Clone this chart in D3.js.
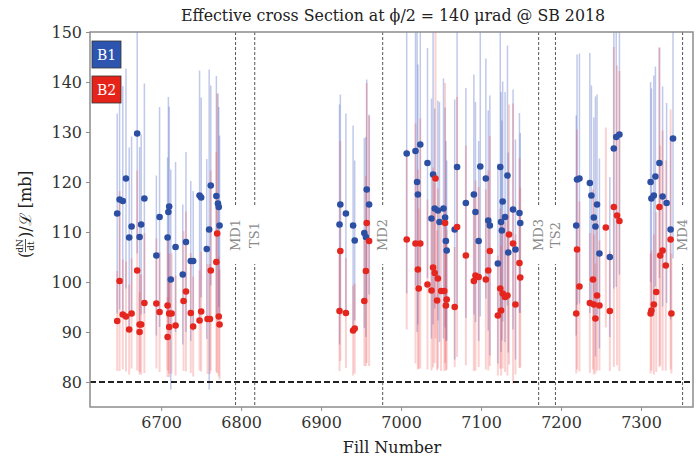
<!DOCTYPE html>
<html>
<head>
<meta charset="utf-8">
<script src="https://cdn.jsdelivr.net/npm/d3@7"></script>
<style>
body { margin: 0; background: #fff; }
text { font-family: "DejaVu Serif", "Liberation Serif", serif; }
</style>
</head>
<body>
<svg id="chart" width="697" height="459"></svg>
<script>
// B1 (beam 1) values per fill
const b1Fill = [6645, 6648, 6652, 6656, 6660, 6663, 6670, 6673, 6675, 6679, 6694, 6698, 6708, 6709, 6710, 6712, 6718, 6727, 6731, 6737, 6740, 6748, 6750, 6757, 6760, 6762, 6769, 6771, 6772, 6773,
    6923, 6924, 6931, 6940, 6942, 6954, 6956, 6957, 6960,
    7007, 7018, 7020, 7021, 7024, 7033, 7038, 7040, 7042, 7046, 7048, 7053, 7055, 7056, 7057, 7067, 7070, 7081, 7091, 7093, 7097, 7099, 7106, 7109, 7111, 7121, 7124, 7125, 7126, 7127, 7130, 7133, 7134, 7140, 7143, 7148, 7149,
    7219, 7220, 7223, 7236, 7238, 7241, 7243, 7245, 7248, 7261, 7266, 7269, 7273,
    7312, 7313, 7316, 7318, 7323, 7327, 7332, 7337, 7340];
const b1Val = [113.7, 116.5, 116.2, 120.7, 108.9, 111.1, 129.7, 109.0, 111.5, 116.7, 105.3, 113.0, 108.9, 114.0, 115.1, 100.5, 107.0, 101.5, 108.0, 104.2, 104.2, 117.3, 116.9, 106.6, 110.5, 119.3, 117.2, 115.7, 115.0, 111.3,
    111.5, 115.5, 113.7, 111.3, 108.3, 109.8, 109.0, 118.5, 115.5,
    125.7, 126.2, 120.0, 117.5, 127.5, 123.8, 112.7, 121.5, 114.7, 114.3, 112.0, 114.7, 112.9, 108.2, 106.3, 110.5, 123.0, 115.8, 117.5, 114.0, 108.2, 123.1, 120.7, 112.3, 111.3, 103.7, 123.0, 112.0, 110.3, 116.1, 113.0, 121.3, 105.9, 114.5, 106.5, 113.8, 111.8,
    111.3, 120.5, 120.7, 119.8, 117.3, 112.9, 111.1, 115.5, 105.7, 105.0, 126.7, 129.0, 129.5,
    120.0, 116.7, 117.3, 121.1, 123.8, 117.1, 115.8, 110.5, 128.7];
const b1Err = [20, 22, 23, 22, 18, 18, 24, 18, 18, 23, 16, 22, 16, 23, 20, 22, 17, 14, 18, 16, 14, 25, 20, 18, 32, 20, 24, 22, 20, 18,
    24, 22, 20, 20, 16, 19, 20, 22, 18,
    28, 27, 30, 26, 28, 23, 24, 30, 20, 22, 24, 26, 22, 20, 18, 26, 28, 23, 24, 22, 20, 30, 24, 22, 26, 20, 28, 26, 22, 24, 25, 26, 20, 24, 22, 20, 18,
    22, 25, 25, 26, 22, 20, 26, 22, 19, 16, 28, 30, 28,
    20, 22, 24, 22, 23, 22, 20, 18, 24];

// B2 (beam 2) values per fill
const b2Fill = [6645, 6648, 6652, 6656, 6660, 6663, 6670, 6673, 6673, 6675, 6679, 6694, 6698, 6708, 6708, 6710, 6713, 6710, 6718, 6728, 6731, 6737, 6740, 6748, 6750, 6758, 6761, 6762, 6769, 6770, 6772, 6773,
    6923, 6924, 6931, 6940, 6942, 6954, 6956, 6957, 6960,
    7007, 7018, 7021, 7022, 7024, 7033, 7038, 7040, 7042, 7043, 7045, 7046, 7050, 7054, 7055, 7056, 7057, 7067, 7070, 7081, 7091, 7093, 7097, 7106, 7109, 7111, 7121, 7124, 7125, 7127, 7130, 7133, 7135, 7140, 7143, 7148, 7149,
    7219, 7220, 7223, 7236, 7240, 7241, 7243, 7245, 7248, 7256, 7261, 7266, 7270, 7273,
    7312, 7313, 7316, 7319, 7323, 7324, 7327, 7331, 7337, 7338];
const b2Val = [92.2, 100.2, 93.5, 93.1, 90.5, 93.7, 102.3, 91.5, 90.0, 91.5, 95.8, 95.7, 94.0, 95.3, 89.0, 93.7, 93.7, 91.0, 91.3, 96.2, 98.1, 93.8, 91.1, 92.3, 94.1, 92.6, 92.6, 102.3, 104.0, 109.7, 93.1, 91.5,
    94.2, 106.2, 93.8, 90.3, 90.7, 96.2, 102.2, 111.8, 108.2,
    108.5, 107.7, 102.5, 98.7, 107.7, 99.5, 98.3, 102.9, 101.8, 120.7, 96.3, 100.7, 98.2, 98.2, 111.8, 95.3, 96.5, 95.0, 111.0, 105.3, 100.2, 101.3, 101.0, 100.5, 102.3, 106.2, 93.3, 98.7, 94.3, 97.7, 97.0, 97.3, 109.5, 107.7, 95.5, 103.8, 100.9,
    93.7, 106.5, 99.1, 95.8, 100.5, 95.5, 92.7, 97.3, 95.3, 110.9, 94.2, 115.0, 113.3, 112.2,
    93.7, 94.3, 95.5, 98.0, 115.0, 105.3, 106.3, 103.3, 108.5, 93.7];
const b2Err = [10, 18, 11, 11, 9, 11, 20, 10, 8, 10, 14, 13, 12, 13, 8, 12, 12, 10, 10, 14, 16, 12, 10, 10, 12, 11, 11, 20, 22, 28, 12, 11,
    12, 22, 11, 9, 9, 13, 19, 28, 25,
    18, 24, 20, 16, 25, 17, 16, 20, 18, 32, 14, 18, 16, 16, 28, 13, 14, 12, 26, 22, 18, 19, 18, 18, 20, 23, 12, 16, 13, 15, 15, 16, 26, 28, 14, 21, 18,
    12, 24, 17, 14, 18, 14, 11, 15, 13, 20, 12, 32, 30, 30,
    12, 12, 14, 16, 32, 22, 24, 21, 26, 12];

// machine development / technical stop markers
const eventName = ["MD1", "TS1", "MD2", "MD3", "TS2", "MD4"];
const eventFill = [6793, 6817, 6977, 7172, 7193, 7352];

const yTicks = [80, 90, 100, 110, 120, 130, 140, 150];
const xTicks = [6700, 6800, 6900, 7000, 7100, 7200, 7300];
const threshold = 80;

const margin = {left: 90, right: 693, top: 32, bottom: 407};

const svg = d3.select("#chart");

const x = d3.scaleLinear().domain([6611, 7365]).range([margin.left, margin.right]);
const y = d3.scaleLinear().domain([75, 150]).range([margin.bottom, margin.top]);

svg.append("defs").append("clipPath")
    .attr("id", "plotClip")
    .append("rect")
    .attr("x", margin.left)
    .attr("y", margin.top)
    .attr("width", margin.right - margin.left)
    .attr("height", margin.bottom - margin.top);

const plot = svg.append("g").attr("clip-path", "url(#plotClip)");

function series(fills, vals, errs) {
    return fills.map((f, i) => ({fill: f, val: vals[i], err: errs[i]}));
}
const b1 = series(b1Fill, b1Val, b1Err);
const b2 = series(b2Fill, b2Val, b2Err);

// error bars
plot.append("g").selectAll("line")
    .data(b1)
    .enter().append("line")
    .attr("x1", d => x(d.fill))
    .attr("x2", d => x(d.fill))
    .attr("y1", d => y(d.val - d.err))
    .attr("y2", d => y(d.val + d.err))
    .attr("stroke", "#4a63c4")
    .attr("stroke-opacity", 0.35)
    .attr("stroke-width", 1.5);

plot.append("g").selectAll("line")
    .data(b2)
    .enter().append("line")
    .attr("x1", d => x(d.fill))
    .attr("x2", d => x(d.fill))
    .attr("y1", d => y(d.val - d.err))
    .attr("y2", d => y(d.val + d.err))
    .attr("stroke", "#f04a4a")
    .attr("stroke-opacity", 0.25)
    .attr("stroke-width", 2);

// threshold line
plot.append("line")
    .attr("x1", margin.left)
    .attr("x2", margin.right)
    .attr("y1", y(threshold))
    .attr("y2", y(threshold))
    .attr("stroke", "#222")
    .attr("stroke-width", 1.8)
    .attr("stroke-dasharray", "6,3");

// event lines with labels
const events = eventName.map((n, i) => ({name: n, fill: eventFill[i]}));
const ev = plot.append("g").selectAll("g")
    .data(events)
    .enter().append("g");
ev.append("line")
    .attr("x1", d => x(d.fill))
    .attr("x2", d => x(d.fill))
    .attr("y1", margin.top)
    .attr("y2", margin.bottom)
    .attr("stroke", "#555")
    .attr("stroke-width", 1)
    .attr("stroke-dasharray", "3,2");
ev.append("rect")
    .attr("x", d => x(d.fill) - 7)
    .attr("y", y(109.4) - 29)
    .attr("width", 14)
    .attr("height", 58)
    .attr("fill", "#fff");
ev.append("text")
    .attr("transform", d => `translate(${x(d.fill) + 4.5},${y(109.4)}) rotate(-90)`)
    .attr("text-anchor", "middle")
    .attr("font-size", 13)
    .attr("fill", "#8a8a8a")
    .text(d => d.name);

// points
plot.append("g").selectAll("circle")
    .data(b1)
    .enter().append("circle")
    .attr("cx", d => x(d.fill))
    .attr("cy", d => y(d.val))
    .attr("r", 3.3)
    .attr("fill", "#2c4fa3");

plot.append("g").selectAll("circle")
    .data(b2)
    .enter().append("circle")
    .attr("cx", d => x(d.fill))
    .attr("cy", d => y(d.val))
    .attr("r", 3.3)
    .attr("fill", "#e5261e");

// frame
svg.append("rect")
    .attr("x", margin.left)
    .attr("y", margin.top)
    .attr("width", margin.right - margin.left)
    .attr("height", margin.bottom - margin.top)
    .attr("fill", "none")
    .attr("stroke", "#8c8c8c")
    .attr("stroke-width", 1.5);

// axes
const yAxis = svg.append("g")
    .attr("transform", `translate(${margin.left},0)`)
    .call(d3.axisLeft(y).tickValues(yTicks).tickSize(4).tickPadding(4));
const xAxis = svg.append("g")
    .attr("transform", `translate(0,${margin.bottom})`)
    .call(d3.axisBottom(x).tickValues(xTicks).tickFormat(d3.format("d")).tickSize(4).tickPadding(6));
[yAxis, xAxis].forEach(a => {
    a.select(".domain").remove();
    a.selectAll(".tick line").attr("stroke", "#8c8c8c");
    a.selectAll(".tick text")
        .attr("font-family", "DejaVu Serif")
        .attr("font-size", 16)
        .attr("fill", "#333");
});

// legend boxes
const legend = [{name: "B1", color: "#2d55b0"}, {name: "B2", color: "#e5231b"}];
const lg = svg.append("g").selectAll("g")
    .data(legend)
    .enter().append("g")
    .attr("transform", (d, i) => `translate(92,${41 + i * 35})`);
lg.append("rect")
    .attr("width", 29)
    .attr("height", 27)
    .attr("fill", d => d.color)
    .attr("stroke", "#333")
    .attr("stroke-width", 0.8);
lg.append("text")
    .attr("x", 14.5)
    .attr("y", 19)
    .attr("text-anchor", "middle")
    .attr("font-size", 14)
    .attr("fill", "#fff")
    .text(d => d.name);

// title
svg.append("text")
    .attr("x", 393)
    .attr("y", 21)
    .attr("text-anchor", "middle")
    .attr("font-size", 15.8)
    .attr("fill", "#222")
    .text("Effective cross Section at ϕ/2 = 140 μrad @ SB 2018");

// x label
svg.append("text")
    .attr("x", 392)
    .attr("y", 453)
    .attr("text-anchor", "middle")
    .attr("font-size", 16)
    .attr("fill", "#222")
    .text("Fill Number");

// y label: (dN/dt)/L [mb]
const yl = svg.append("g")
    .attr("transform", "translate(31,258) rotate(-90)")
    .attr("fill", "#222");
yl.append("text").attr("x", 0).attr("y", 0).attr("font-size", 16).text("(");
yl.append("text").attr("x", 12).attr("y", -8).attr("font-size", 9).attr("text-anchor", "middle").text("dN");
yl.append("line").attr("x1", 6).attr("x2", 19).attr("y1", -5.5).attr("y2", -5.5).attr("stroke", "#222").attr("stroke-width", 0.8);
yl.append("text").attr("x", 12).attr("y", 3).attr("font-size", 9).attr("text-anchor", "middle").text("dt");
yl.append("text").attr("x", 20).attr("y", 0).attr("font-size", 16).text(")/ℒ [mb]");
</script>
</body>
</html>
